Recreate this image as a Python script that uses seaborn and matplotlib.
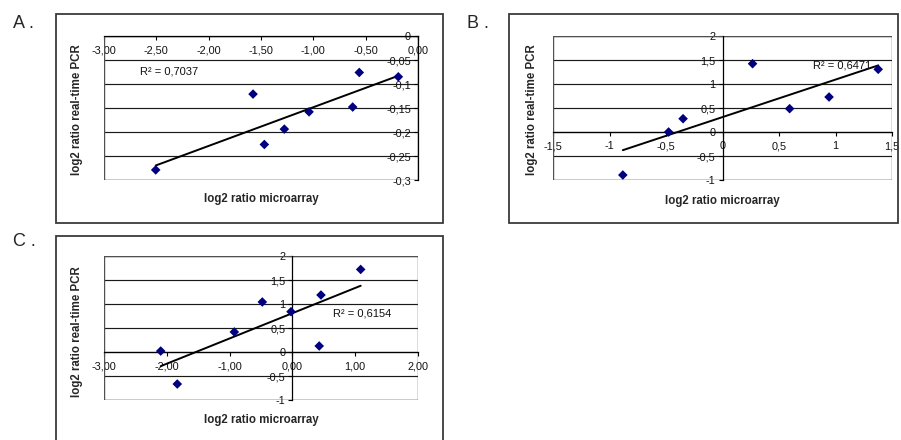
import matplotlib
matplotlib.use("Agg")
import matplotlib.pyplot as plt
import seaborn as sns
import pandas as pd
from matplotlib.patches import Rectangle

# ---------------- data ----------------
# Panel A
a_x = [-2.506, -1.576, -1.468, -1.277, -1.041, -0.624, -0.561, -0.188]
a_y = [-0.279, -0.121, -0.226, -0.194, -0.158, -0.148, -0.076, -0.085]
a_xticks = [-3.0, -2.5, -2.0, -1.5, -1.0, -0.5, 0.0]
a_xticklabels = ["-3,00", "-2,50", "-2,00", "-1,50", "-1,00", "-0,50", "0,00"]
a_yticks = [0.0, -0.05, -0.1, -0.15, -0.2, -0.25, -0.3]
a_yticklabels = ["0", "-0,05", "-0,1", "-0,15", "-0,2", "-0,25", "-0,3"]
a_r2 = "R² = 0,7037"

# Panel B
b_x = [-0.882, -0.477, -0.349, 0.266, 0.594, 0.943, 1.378]
b_y = [-0.896, 0.0, 0.277, 1.423, 0.486, 0.729, 1.306]
b_xticks = [-1.5, -1.0, -0.5, 0.0, 0.5, 1.0, 1.5]
b_xticklabels = ["-1,5", "-1", "-0,5", "0", "0,5", "1", "1,5"]
b_yticks = [-1.0, -0.5, 0.0, 0.5, 1.0, 1.5, 2.0]
b_yticklabels = ["-1", "-0,5", "0", "0,5", "1", "1,5", "2"]
b_r2 = "R² = 0,6471"

# Panel C
c_x = [-2.097, -1.833, -0.925, -0.479, -0.022, 0.455, 0.427, 1.087]
c_y = [0.02, -0.667, 0.417, 1.042, 0.84, 1.1875, 0.125, 1.72]
c_xticks = [-3.0, -2.0, -1.0, 0.0, 1.0, 2.0]
c_xticklabels = ["-3,00", "-2,00", "-1,00", "0,00", "1,00", "2,00"]
c_yticks = [-1.0, -0.5, 0.0, 0.5, 1.0, 1.5, 2.0]
c_yticklabels = ["-1", "-0,5", "0", "0,5", "1", "1,5", "2"]
c_r2 = "R² = 0,6154"

panel_letters = ["A .", "B .", "C ."]
x_title = "log2 ratio microarray"
y_title = "log2 ratio real-time PCR"

# ---------------- style ----------------
sns.set_style("white")
plt.rcParams["font.family"] = ["Liberation Sans", "DejaVu Sans"]

W, H = 901, 440
fig = plt.figure(figsize=(W / 100, H / 100), dpi=100)


def fig_rect(l, t, r, b):
    return [l / W, 1 - b / H, (r - l) / W, (b - t) / H]


def outer_box(l, t, r, b):
    fig.add_artist(Rectangle((l / W, 1 - b / H), (r - l) / W, (b - t) / H,
                             transform=fig.transFigure, fill=False,
                             ec="#3a3a3a", lw=1.3))


def draw(ax, x, y, xticks, xlabels, yticks, ylabels, r2, r2pos, xl_y, yl_x, yl_y):
    df = pd.DataFrame({"x": x, "y": y})
    sns.regplot(data=df, x="x", y="y", ax=ax, scatter=False, ci=None,
                truncate=True, line_kws=dict(color="black", lw=1.4, zorder=3))
    sns.scatterplot(data=df, x="x", y="y", ax=ax, marker="D", s=24,
                    color="#000080", edgecolor="none", zorder=4, legend=False)
    ax.set_xlim(min(xticks), max(xticks))
    ax.set_ylim(min(yticks), max(yticks))
    ax.set_xticks(xticks)
    ax.set_xticklabels(xlabels)
    ax.set_yticks(yticks)
    ax.set_yticklabels(ylabels)
    for s in ["top", "right"]:
        ax.spines[s].set_visible(False)
    ax.spines["left"].set_position(("data", 0))
    ax.spines["bottom"].set_position(("data", 0))
    for s in ["left", "bottom"]:
        ax.spines[s].set_color("black")
        ax.spines[s].set_linewidth(0.9)
        ax.spines[s].set_zorder(2.5)
    ax.add_patch(Rectangle((0, 0), 1, 1, transform=ax.transAxes, fill=False,
                           ec="#505050", lw=1.0, zorder=2))
    ax.yaxis.grid(True, color="#1a1a1a", lw=0.85)
    ax.xaxis.grid(False)
    ax.set_axisbelow(True)
    ax.xaxis.set_ticks_position("bottom")
    ax.yaxis.set_ticks_position("left")
    ax.tick_params(axis="both", length=3, width=0.8, color="black",
                   labelsize=7.8, direction="out", labelcolor="#111111")
    ax.tick_params(axis="x", pad=3.5)
    ax.tick_params(axis="y", pad=2.0)
    ax.set_xlabel(x_title, fontsize=8.3, fontweight="bold")
    ax.set_ylabel(y_title, fontsize=8.3, fontweight="bold")
    ax.xaxis.set_label_coords(0.5, xl_y)
    ax.yaxis.set_label_coords(yl_x, yl_y)
    ax.xaxis.label.set_va("center")
    ax.yaxis.label.set_va("center")
    ax.yaxis.label.set_ha("center")
    ax.text(r2pos[0], r2pos[1], r2, fontsize=8, ha="left", va="center",
            color="#111111", zorder=5)


# outer frames
outer_box(56, 14, 443, 223)
outer_box(509, 14, 898, 223)
outer_box(56, 236, 443, 446)

axA = fig.add_axes(fig_rect(104, 36, 418, 180))
axB = fig.add_axes(fig_rect(553, 36, 892, 180))
axC = fig.add_axes(fig_rect(104, 256, 418, 400))

draw(axA, a_x, a_y, a_xticks, a_xticklabels, a_yticks, a_yticklabels,
     a_r2, (-2.66, -0.073), -0.134, -0.086, 0.486)
draw(axB, b_x, b_y, b_xticks, b_xticklabels, b_yticks, b_yticklabels,
     b_r2, (0.80, 1.38), -0.144, -0.063, 0.486)
draw(axC, c_x, c_y, c_xticks, c_xticklabels, c_yticks, c_yticklabels,
     c_r2, (0.65, 0.80), -0.139, -0.085, 0.474)

fig.text(12.7 / W, 1 - 23.3 / H, panel_letters[0], fontsize=13, ha="left", va="center")
fig.text(467 / W, 1 - 23.3 / H, panel_letters[1], fontsize=13, ha="left", va="center")
fig.text(12.7 / W, 1 - 241.7 / H, panel_letters[2], fontsize=13, ha="left", va="center")

fig.savefig("out.png", dpi=100, facecolor="white")
